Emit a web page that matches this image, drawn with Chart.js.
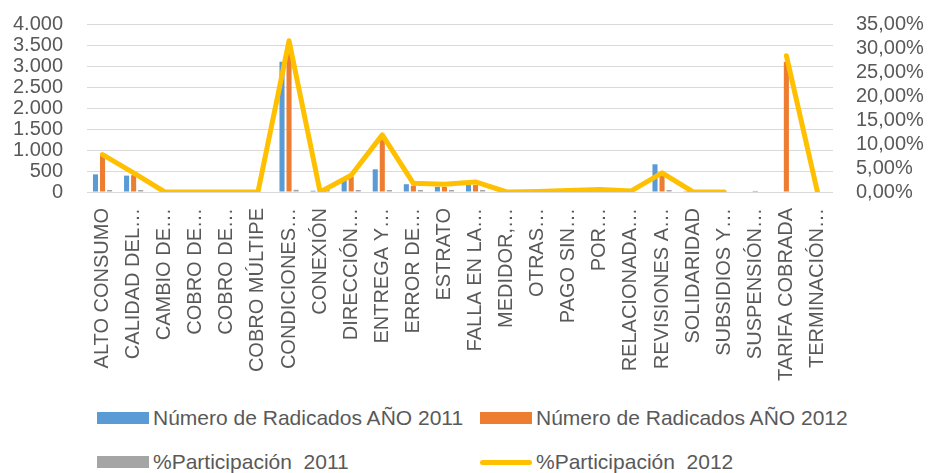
<!DOCTYPE html>
<html>
<head>
<meta charset="utf-8">
<script src="https://cdn.jsdelivr.net/npm/chart.js@4.4.1/dist/chart.umd.min.js"></script>
<style>
  html, body { margin: 0; padding: 0; background: #ffffff; }
  body { width: 930px; height: 473px; position: relative; overflow: hidden; font-family: 'Liberation Sans', Arial, sans-serif; }
  #wrap { position: absolute; left: 0; top: 0; width: 930px; height: 400px; }
  .lg { position: absolute; height: 24px; display: flex; align-items: center; font-size: 21px; color: #595959; white-space: pre; }
  .lg .sw { width: 52px; height: 12px; margin-right: 4px; flex: none; }
  .lg .ln { width: 52px; height: 5px; border-radius: 3px; margin-right: 4px; flex: none; }
</style>
</head>
<body>
<div id="wrap"><canvas id="c"></canvas></div>
<div id="legend"></div>
<script>
const categories = ["ALTO CONSUMO","CALIDAD DEL…","CAMBIO DE…","COBRO DE…","COBRO DE…","COBRO MÚLTIPE","CONDICIONES…","CONEXIÓN","DIRECCIÓN…","ENTREGA Y…","ERROR DE…","ESTRATO","FALLA EN LA…","MEDIDOR,…","OTRAS…","PAGO SIN…","POR…","RELACIONADA…","REVISIONES A…","SOLIDARIDAD","SUBSIDIOS Y…","SUSPENSIÓN…","TARIFA COBRADA","TERMINACIÓN…"];

const radicados2011 = [420,390,0,0,0,0,3100,30,285,540,185,125,165,0,0,0,0,0,660,20,0,0,0,0];
const radicados2012 = [920,400,0,0,0,0,3320,0,365,1320,150,120,165,0,10,30,55,20,445,0,0,25,3100,0];
const participacion2011 = [7.1,6.6,null,null,null,null,52.4,0.5,4.8,9.1,3.1,2.1,2.8,null,null,null,null,null,11.2,0.3,null,null,null,null];
const participacion2012 = [7.8,4.0,0,0,0,0,31.5,0,3.5,11.9,1.8,1.6,2.1,0,0.1,0.3,0.5,0.2,4.0,0,0,null,28.4,0];

const leftTicksMax = 4000, leftStep = 500;
const rightTicksMax = 35, rightStep = 5;

const seriesNames = ["Número de Radicados AÑO 2011","Número de Radicados AÑO 2012","%Participación  2011","%Participación  2012"];
const colors = ["#5B9BD5","#ED7D31","#A5A5A5","#FFC000"];

const fmtThousands = v => String(Math.round(v)).replace(/\B(?=(\d{3})+(?!\d))/g, '.');
const fmtPct = v => v.toFixed(2).replace('.', ',') + '%';

Chart.defaults.font.family = "'Liberation Sans', Arial, sans-serif";
Chart.defaults.color = '#595959';

const chart = new Chart(document.getElementById('c'), {
  type: 'bar',
  data: {
    labels: categories,
    datasets: [
      { type: 'line', label: seriesNames[3], data: participacion2012, yAxisID: 'y1',
        borderColor: colors[3], backgroundColor: colors[3], borderWidth: 5,
        pointRadius: 0, tension: 0, spanGaps: false, order: 0,
        borderJoinStyle: 'round', borderCapStyle: 'round' },
      { label: seriesNames[0], data: radicados2011, yAxisID: 'y', backgroundColor: colors[0], order: 1,
        categoryPercentage: 0.68, barPercentage: 0.72 },
      { label: seriesNames[1], data: radicados2012, yAxisID: 'y', backgroundColor: colors[1], order: 1,
        categoryPercentage: 0.68, barPercentage: 0.72 },
      { label: seriesNames[2], data: participacion2011, yAxisID: 'y', backgroundColor: colors[2], order: 1,
        categoryPercentage: 0.68, barPercentage: 0.72, minBarLength: 2 }
    ]
  },
  options: {
    responsive: true,
    maintainAspectRatio: false,
    animation: false,
    layout: { padding: { left: 13, right: 0, top: 24, bottom: 0 } },
    plugins: { legend: { display: false }, tooltip: { enabled: false }, title: { display: false } },
    scales: {
      x: {
        grid: { display: false, drawTicks: false },
        border: { display: false },
        ticks: { autoSkip: false, maxRotation: 90, minRotation: 90, padding: 16, font: { size: 20 }, color: '#595959' },
        afterFit: s => { s.height = 208; s.paddingTop = 0; s.paddingBottom = 0; }
      },
      y: {
        position: 'left', min: 0, max: leftTicksMax,
        grid: { color: '#D9D9D9', lineWidth: 1, drawTicks: false },
        border: { display: false },
        ticks: { autoSkip: false, stepSize: leftStep, padding: 24, font: { size: 20 }, color: '#595959', callback: v => fmtThousands(v) },
        afterFit: s => { s.width = 74; s.paddingTop = 0; s.paddingBottom = 0; }
      },
      y1: {
        position: 'right', min: 0, max: rightTicksMax,
        grid: { display: false, drawTicks: false },
        border: { display: false },
        ticks: { autoSkip: false, stepSize: rightStep, padding: 23, font: { size: 20 }, color: '#595959', callback: v => fmtPct(v) },
        afterFit: s => { s.width = 97; s.paddingTop = 0; s.paddingBottom = 0; }
      }
    }
  }
});

// Legend (HTML, real text)
const legendPos = [
  { left: 97, top: 406, kind: 'sw' },
  { left: 480, top: 406, kind: 'sw' },
  { left: 97, top: 450, kind: 'sw' },
  { left: 480, top: 450, kind: 'ln' }
];
const lg = document.getElementById('legend');
seriesNames.forEach((name, i) => {
  const d = document.createElement('div');
  d.className = 'lg';
  d.style.left = legendPos[i].left + 'px';
  d.style.top = legendPos[i].top + 'px';
  const s = document.createElement('span');
  s.className = legendPos[i].kind;
  s.style.background = colors[i];
  const t = document.createElement('span');
  t.textContent = name;
  d.appendChild(s); d.appendChild(t);
  lg.appendChild(d);
});
</script>
</body>
</html>
